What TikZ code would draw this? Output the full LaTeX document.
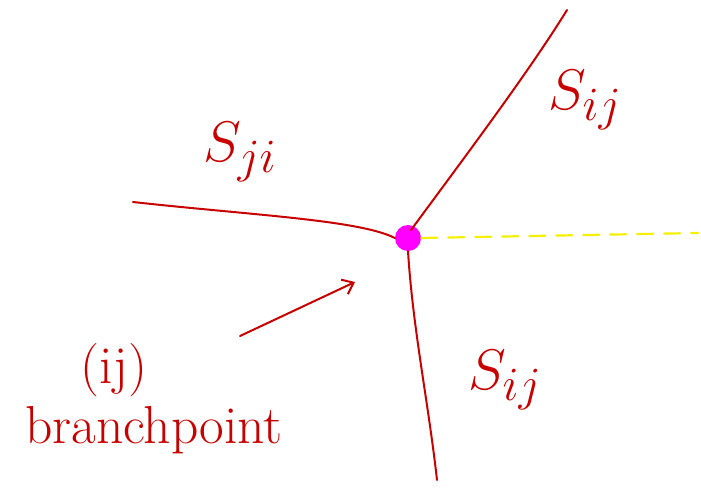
\documentclass[tikz,border=0pt]{standalone}
\usepackage{tikz}
\usetikzlibrary{arrows.meta,positioning}
\definecolor{inkred}{HTML}{C80000}
\definecolor{inkmag}{HTML}{FF00FF}
\definecolor{inkyel}{HTML}{F5F000}
\tikzset{
  wall/.style={draw=inkred,line width=2pt,line cap=round},
  cut/.style={draw=inkyel,line width=2.2pt,dash pattern=on 16pt off 11pt,line cap=round},
  lbl/.style={text=inkred,inner sep=0pt,font=\Huge,scale=2.3},
  txt/.style={text=inkred,inner sep=0pt,font=\Huge,scale=2.15},
}

\begin{document}
\begin{tikzpicture}[x=1pt,y=-1pt]
        \useasboundingbox (0,0) rectangle (701,495);

        % Define the branch point and the free ends
        \node[circle,fill=inkmag,minimum size=26pt,inner sep=0pt] (bp) at (408,238) {};
        \coordinate (top) at (567,10);
        \coordinate (left) at (133,202);
        \coordinate (bot) at (437,480);
        \coordinate (far) at (698,233);
        \coordinate (tail) at (240,336);
        \coordinate (head) at (355,282);

        % Draw walls
        \draw[wall] (bp.center) ++(3,-8) .. controls (470,150) and (530,70) .. (top);
        \draw[wall] (left) .. controls (250,215) and (360,220) .. (bp.west);
        \draw[wall] (bp.south) .. controls (413,330) and (428,400) .. (bot);
        \draw[cut] (bp.east) -- (far);
        \draw[wall,-{Straight Barb[length=10pt,width=16pt]}] (tail) -- (head);

        % Labels
        \node[lbl] (sji) at (240,152) {$S_{ji}$};
        \node[lbl] (sijtop) at (585,100) {$S_{ij}$};
        \node[lbl] (sijbot) at (505,380) {$S_{ij}$};
        \node[txt] (ij) at (114,370) {(ij)};
        \node[txt] (bptext) at (154,430) {branchpoint};

\end{tikzpicture}
\end{document}
